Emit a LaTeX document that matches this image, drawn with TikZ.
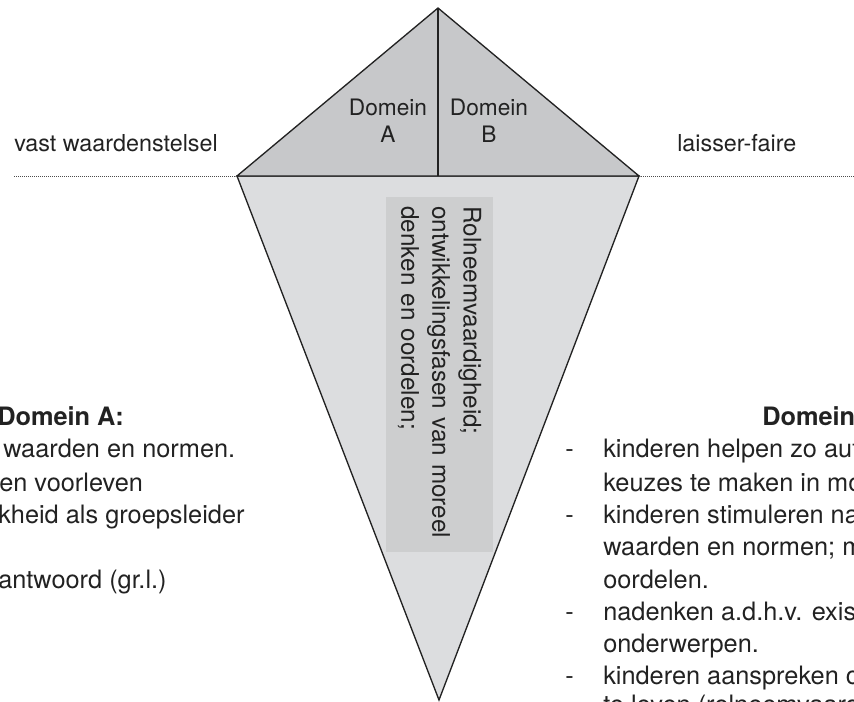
\documentclass[tikz,border=0pt]{standalone}
\usepackage{fontspec}
\setmainfont{TeX Gyre Heros}
\usetikzlibrary{positioning}

\definecolor{topgray}{HTML}{C7C8CA}
\definecolor{kitegray}{HTML}{DCDDDF}
\definecolor{boxgray}{HTML}{CDCECF}
\definecolor{inkgray}{HTML}{222222}

\begin{document}
\begin{tikzpicture}[x=0.75pt, y=-0.75pt,
	edge/.style={draw=inkgray, line width=1pt, line join=miter},
	guide/.style={draw=black!70, line width=0.6pt, dash pattern=on 0.6pt off 0.9pt},
	txt/.style={inner sep=0pt, text=inkgray, anchor=base west,
		font=\fontsize{19}{24}\selectfont},
	head/.style={txt, font=\fontsize{19}{24}\selectfont\bfseries},
	label/.style={txt, anchor=north, align=center,
		font=\fontsize{17}{20.3}\selectfont},
]

\useasboundingbox (0,0) rectangle (854,702);

% Corners of the kite
\coordinate (apex) at (438,8);
\coordinate (left) at (237,176);
\coordinate (right) at (639,176);
\coordinate (mid) at (438,176);
\coordinate (tip) at (439,700);

% Lower part
\filldraw[edge, fill=kitegray] (left) -- (right) -- (tip) -- cycle;

% Top triangle
\filldraw[edge, fill=topgray] (left) -- (apex) -- (right) -- cycle;
\draw[edge] (apex) -- (mid);

% Dotted guide lines
\coordinate (gleft) at (14,176);
\coordinate (gright) at (854,176);
\draw[guide] (gleft) -- (left);
\draw[guide] (right) -- (gright);

% Side labels
\node[txt, font=\fontsize{17.5}{20}\selectfont] (vast) at (14,152) {vast waardenstelsel};
\node[txt, font=\fontsize{17.5}{20}\selectfont] (laisser) at (677,152) {laisser-faire};

% Domain labels
\node[label] (labA) at (388,99) {Domein\\A};
\node[label] (labB) at (489,99) {Domein\\B};

% Inner box
\node [fill=boxgray,
	rotate=-90,
	minimum width=266pt,
	minimum height=80pt,
	text width=252pt,
	inner xsep=7pt,
	inner ysep=0pt,
	align=left,
	text=inkgray,
	font=\fontsize{18.2}{23.3}\selectfont,
]  (rol) at (439.5,374.5) {
Rolneemvaardigheid;\\ontwikkelingsfasen van moreel\\denken en oordelen;
};

% Domein A
\node[head] (domA) at (-3,426) {Domein A:};
\node[txt] (a1) at (3,458) {waarden en normen.};
\node[txt] (a2) at (-1,491) {en voorleven};
\node[txt] (a3) at (-2,523) {kheid als groepsleider};
\node[txt] (a4) at (-2,588) {antwoord (gr.l.)};

% Domein B
\node[head] (domB) at (762,426) {Domein B:};
\node[txt] (d1) at (565,458) {-};
\node[txt] (b1) at (603,458) {kinderen helpen zo autonoom};
\node[txt] (b2) at (603,491) {keuzes te maken in moreel};
\node[txt] (d2) at (565,523) {-};
\node[txt] (b3) at (603,523) {kinderen stimuleren na};
\node[txt] (b4) at (603,555) {waarden en normen; m};
\node[txt] (b5) at (603,588) {oordelen.};
\node[txt] (d3) at (565,620) {-};
\node[txt] (b6) at (603,620) {nadenken a.d.h.v. existentiële};
\node[txt] (b7) at (603,652) {onderwerpen.};
\node[txt] (d4) at (565,684) {-};
\node[txt] (b8) at (603,684) {kinderen aanspreken op};
\node[txt] (b9) at (603,713) {te leven (rolneemvaardigheid};

\end{tikzpicture}
\end{document}
